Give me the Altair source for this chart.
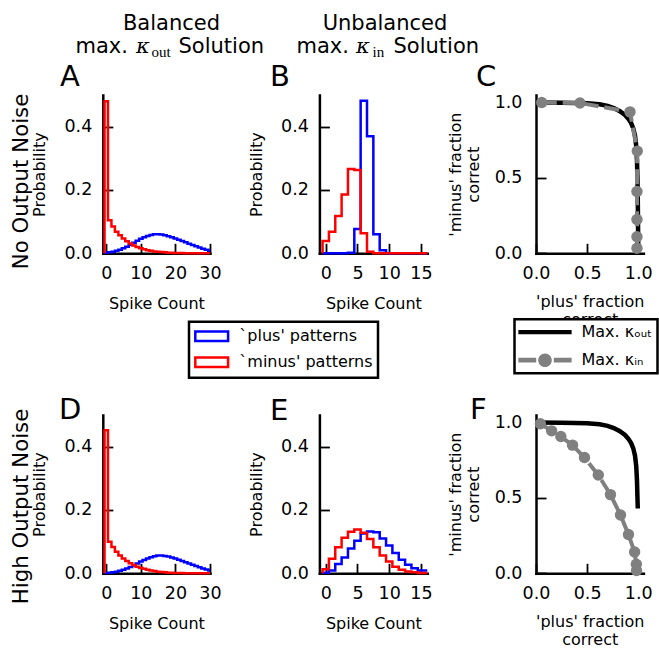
import altair as alt
import pandas as pd

W, H = 659, 648
FONT = "DejaVu Sans"

PLUS, MINUS = "`plus' patterns", "`minus' patterns"
KOUT, KIN = "Max. κₒᵤₜ", "Max. κᵢₙ"

# spike-count distributions: probability of each count 0, 1, 2, ...
plus_A = [0.002, 0.003, 0.005, 0.008, 0.011, 0.016, 0.021, 0.027, 0.033, 0.040,
          0.046, 0.051, 0.055, 0.058, 0.060, 0.060, 0.059, 0.057, 0.054, 0.051,
          0.047, 0.043, 0.039, 0.035, 0.030, 0.026, 0.022, 0.018, 0.014, 0.011, 0.008]
minus_A = [0.480, 0.104, 0.085, 0.068, 0.057, 0.047, 0.038, 0.031, 0.025, 0.020,
           0.016, 0.013, 0.010, 0.008, 0.006, 0.005, 0.004, 0.003, 0.002, 0.002,
           0.001, 0.001, 0.001, 0.0, 0.0, 0.0, 0.0, 0.0, 0.0, 0.0, 0.0]
plus_B = [0.0, 0.0, 0.0, 0.0, 0.002, 0.077, 0.482, 0.370, 0.060, 0.010,
          0.0, 0.0, 0.0, 0.0, 0.0, 0.0]
minus_B = [0.039, 0.068, 0.118, 0.186, 0.266, 0.263, 0.063, 0.005, 0.0, 0.0,
           0.0, 0.0, 0.0, 0.0, 0.0, 0.0]
plus_D = [0.001, 0.002, 0.003, 0.005, 0.008, 0.011, 0.015, 0.020, 0.025, 0.031,
          0.037, 0.042, 0.047, 0.051, 0.054, 0.056, 0.056, 0.055, 0.053, 0.050,
          0.047, 0.043, 0.039, 0.035, 0.031, 0.027, 0.023, 0.019, 0.015, 0.012, 0.009]
minus_D = [0.452, 0.100, 0.083, 0.068, 0.056, 0.047, 0.039, 0.032, 0.026, 0.021,
           0.017, 0.014, 0.011, 0.009, 0.007, 0.005, 0.004, 0.003, 0.002, 0.002,
           0.001, 0.001, 0.001, 0.0, 0.0, 0.0, 0.0, 0.0, 0.0, 0.0, 0.0]
plus_E = [0.002, 0.009, 0.029, 0.050, 0.078, 0.103, 0.126, 0.132, 0.130, 0.110,
          0.088, 0.064, 0.043, 0.027, 0.016, 0.009]
minus_E = [0.013, 0.046, 0.082, 0.112, 0.131, 0.138, 0.128, 0.108, 0.082, 0.056,
           0.037, 0.021, 0.011, 0.006, 0.003, 0.001]

# fraction-correct trade-off curves
kout_x_C = [0.0, 0.25, 0.5, 0.62, 0.7, 0.76, 0.82, 0.87, 0.9, 0.93, 0.951, 0.968,
            0.98, 0.987, 0.992, 0.996, 1.0]
kout_y_C = [1.0, 0.999, 0.995, 0.988, 0.978, 0.963, 0.942, 0.917, 0.895, 0.864,
            0.829, 0.78, 0.71, 0.62, 0.5, 0.3, 0.0]
kin_x_C = [0.056, 0.43, 0.919, 0.99, 0.987, 0.987, 0.987, 0.987]
kin_y_C = [1.0, 0.997, 0.938, 0.678, 0.41, 0.224, 0.11, 0.034]

kout_x_F = [0.0, 0.25, 0.5, 0.62, 0.7, 0.76, 0.82, 0.87, 0.9, 0.93, 0.951, 0.968,
            0.98, 0.987, 0.992, 0.995]
kout_y_F = [1.0, 0.999, 0.995, 0.988, 0.978, 0.963, 0.942, 0.917, 0.895, 0.864,
            0.829, 0.78, 0.71, 0.62, 0.5, 0.43]
kin_x_F = [0.043, 0.153, 0.243, 0.357, 0.474, 0.609, 0.728, 0.826, 0.904, 0.964,
           0.981, 0.983]
kin_y_F = [0.992, 0.945, 0.907, 0.85, 0.768, 0.652, 0.522, 0.387, 0.257, 0.141,
           0.06, 0.018]

hist_xticks = {"wide": [0, 10, 20, 30], "narrow": [0, 5, 10, 15]}
prob_ticks = [0.0, 0.2, 0.4]
frac_ticks = [0.0, 0.5, 1.0]

# panel frames on the canvas (pixels)
PANEL = {
    "A": dict(left=102.8, right=210.0, top=95.0, bottom=253.3, xdom=[-1, 30], ydom=[0, 0.5]),
    "B": dict(left=319.4, right=427.3, top=95.0, bottom=253.3, xdom=[-1, 16], ydom=[0, 0.5]),
    "C": dict(left=536.0, right=643.4, top=95.0, bottom=253.3, xdom=[0, 1.05], ydom=[0, 1.05]),
    "D": dict(left=102.8, right=210.0, top=415.0, bottom=573.3, xdom=[-1, 30], ydom=[0, 0.5]),
    "E": dict(left=319.4, right=427.3, top=415.0, bottom=573.3, xdom=[-1, 16], ydom=[0, 0.5]),
    "F": dict(left=536.0, right=643.4, top=415.0, bottom=573.3, xdom=[0, 1.05], ydom=[0, 1.05]),
}


def hist_frame(plus, minus, xmax):
    """Step outline (matplotlib histtype='step') for unit bins centred on integers."""
    rows = []
    for name, vals in ((PLUS, plus), (MINUS, minus)):
        xs = [-0.5] + [k - 0.5 for k in range(len(vals))] + [xmax]
        ys = [0.0] + list(vals) + [vals[-1]]
        for i, (x, y) in enumerate(zip(xs, ys)):
            rows.append({"count": x, "prob": y, "series": name, "idx": i})
    return pd.DataFrame(rows)


def xs(p):
    return alt.Scale(domain=p["xdom"], range=[p["left"], p["right"]], nice=False, zero=False)


def ys(p):
    return alt.Scale(domain=p["ydom"], range=[p["bottom"], p["top"]], nice=False, zero=False)


def x_axis(p, values, fmt, title, title_y=55):
    return alt.Axis(orient="bottom", offset=p["bottom"] - H, values=values, format=fmt,
                    ticks=False, tickSize=0, grid=False, domainCap="square",
                    labelPadding=11, labelFlush=False, labelOverlap=False,
                    title=title, titleX=(p["left"] + p["right"]) / 2, titleY=title_y,
                    titleAlign="center", titleBaseline="alphabetic", titleAngle=0,
                    titleLineHeight=18)


def y_axis(p, values, fmt, title, pad, title_x):
    return alt.Axis(orient="left", offset=-p["left"], values=values, format=fmt,
                    ticks=False, tickSize=0, grid=False, domainCap="square",
                    labelPadding=pad, labelFlush=False, labelOverlap=False,
                    title=title, titleX=title_x, titleY=(p["top"] + p["bottom"]) / 2,
                    titleAlign="center", titleBaseline="alphabetic", titleAngle=270,
                    titleLineHeight=18.5)


def tick_layer(df, xf, yf, p, xvals, yvals):
    """Invisible copy of a panel's data that carries its inward-pointing ticks."""
    return alt.Chart(df).mark_point(opacity=0).encode(
        x=alt.X(xf, type="quantitative", scale=xs(p),
                axis=alt.Axis(orient="top", offset=-p["bottom"], values=xvals, labels=False,
                              domain=False, ticks=True, tickSize=10, tickWidth=1.8,
                              tickColor="black", grid=False, title=None)),
        y=alt.Y(yf, type="quantitative", scale=ys(p),
                axis=alt.Axis(orient="right", offset=p["left"] - W, values=yvals, labels=False,
                              domain=False, ticks=True, tickSize=10, tickWidth=1.8,
                              tickColor="black", grid=False, title=None)),
    )


pattern_legend = alt.Legend(
    title=None, orient="none", legendX=189, legendY=321.7, direction="vertical",
    symbolType="M-2.05,-0.6H2.05V0.6H-2.05Z", symbolSize=256, symbolStrokeWidth=2.5,
    symbolFillColor="transparent", symbolOffset=8.2, labelOffset=18.1,
    labelFont=FONT, labelFontSize=16, labelColor="black", labelLimit=400,
    rowPadding=5, padding=5, strokeColor="black", fillColor="white")


def hist_panel(key, plus, minus, xticks, with_legend=False):
    p = PANEL[key]
    df = hist_frame(plus, minus, p["xdom"][1])
    line = alt.Chart(df).mark_line(interpolate="step-after", strokeWidth=2.5).encode(
        x=alt.X("count:Q", scale=xs(p), axis=x_axis(p, xticks, "d", "Spike Count")),
        y=alt.Y("prob:Q", scale=ys(p),
                axis=y_axis(p, prob_ticks, ".1f", "Probability", 11, -58.2)),
        color=alt.Color("series:N",
                        scale=alt.Scale(domain=[PLUS, MINUS], range=["#0000ff", "#ff0000"]),
                        legend=pattern_legend if with_legend else None),
        order=alt.Order("idx:Q"),
    )
    return [line, tick_layer(df, "count", "prob", p, xticks, prob_ticks)]


def curve_panel(key, kx, ky, gx, gy, xtitle):
    p = PANEL[key]
    black = pd.DataFrame({"plus_frac": kx, "minus_frac": ky})
    gray = pd.DataFrame({"plus_frac": gx, "minus_frac": gy, "idx": range(len(gx))})
    ya = y_axis(p, frac_ticks, ".1f", ["'minus' fraction", "correct"], 14, -75.8)
    xa = x_axis(p, frac_ticks, ".1f", xtitle, title_y=53)
    solid = alt.Chart(black).mark_line(color="black", strokeWidth=4.5).encode(
        x=alt.X("plus_frac:Q", scale=xs(p), axis=xa),
        y=alt.Y("minus_frac:Q", scale=ys(p), axis=ya),
        order=alt.Order("minus_frac:Q", sort="descending"),
    )
    dashed = alt.Chart(gray).mark_line(color="#808080", strokeWidth=4, strokeDash=[15, 6]).encode(
        x=alt.X("plus_frac:Q", scale=xs(p), axis=None),
        y=alt.Y("minus_frac:Q", scale=ys(p), axis=None),
        order=alt.Order("idx:Q"),
    )
    dots = alt.Chart(gray).mark_circle(color="#808080", size=130, opacity=1).encode(
        x=alt.X("plus_frac:Q", scale=xs(p), axis=None),
        y=alt.Y("minus_frac:Q", scale=ys(p), axis=None),
    )
    return [solid, dashed, dots,
            tick_layer(black, "plus_frac", "minus_frac", p, frac_ticks, frac_ticks)]


# legend for the two solutions (entries come from the explicit scale domains)
KOUT_SYMBOL = "M-3.33,-0.27H3.33V0.27H-3.33Z"
KIN_SYMBOL = ("M-3.33,-0.3H-1.1V0.3H-3.33Z "
              "M-0.85,0A0.85,0.85 0 1,0 0.85,0A0.85,0.85 0 1,0 -0.85,0Z "
              "M1.1,-0.3H3.33V0.3H1.1Z")
solution_legend = alt.Legend(
    title=None, orient="none", legendX=514.5, legendY=319.2, direction="vertical",
    symbolSize=256, symbolStrokeWidth=0, symbolOffset=17.5, labelOffset=28.5,
    labelFont=FONT, labelFontSize=16, labelColor="black", labelLimit=400,
    rowPadding=12, padding=5, strokeColor="black", fillColor="white")
legend_layer = alt.Chart(pd.DataFrame({"solution": [KOUT, KIN]})).transform_filter(
    "false").mark_point(filled=True, size=256, opacity=1).encode(
    color=alt.Color("solution:N", scale=alt.Scale(domain=[KOUT, KIN], range=["black", "#808080"]),
                    legend=solution_legend),
    shape=alt.Shape("solution:N", scale=alt.Scale(domain=[KOUT, KIN],
                                                  range=[KOUT_SYMBOL, KIN_SYMBOL]),
                    legend=solution_legend),
)


def text(t, x, y, size, font=FONT, angle=0, align="left", style="normal"):
    return alt.Chart(alt.Data(values=[{}])).mark_text(
        text=t, font=font, fontSize=size, angle=angle, align=align, baseline="alphabetic",
        fontStyle=style, color="black").encode(x=alt.value(x), y=alt.value(y))


labels = [
    # column headings
    text("Balanced", 171.5, 29.5, 21, align="center"),
    text("max.", 75.5, 53.3, 21),
    text("κ", 136, 53.3, 21, font="DejaVu Serif", style="italic"),
    text("out", 151.5, 57, 15, font="Liberation Serif"),
    text("Solution", 178.5, 53.3, 21),
    text("Unbalanced", 385, 29.5, 21, align="center"),
    text("max.", 296.5, 53.3, 21),
    text("κ", 356, 53.3, 21, font="DejaVu Serif", style="italic"),
    text("in", 372.5, 56.5, 15, font="Liberation Serif"),
    text("Solution", 393.5, 53.3, 21),
    # row headings
    text("No Output Noise", 27.5, 181.5, 21.3, angle=270, align="center"),
    text("High Output Noise", 27.5, 506.5, 21.3, angle=270, align="center"),
    # panel letters
    text("A", 60, 86, 29),
    text("B", 270, 86, 29),
    text("C", 476, 86, 29),
    text("D", 59, 419, 29),
    text("E", 270, 420, 29),
    text("F", 470, 419, 29),
]

layers = []
layers += hist_panel("A", plus_A, minus_A, hist_xticks["wide"], with_legend=True)
layers += hist_panel("B", plus_B, minus_B, hist_xticks["narrow"])
layers += curve_panel("C", kout_x_C, kout_y_C, kin_x_C, kin_y_C, ["'plus' fraction", "correct"])
layers += hist_panel("D", plus_D, minus_D, hist_xticks["wide"])
layers += hist_panel("E", plus_E, minus_E, hist_xticks["narrow"])
layers += curve_panel("F", kout_x_F, kout_y_F, kin_x_F, kin_y_F, ["'plus' fraction", "correct"])
layers.append(legend_layer)
layers += labels

chart = alt.layer(*layers).resolve_scale(
    x="independent", y="independent", color="independent", shape="independent"
).properties(
    width=W, height=H, padding=0, background="white",
    autosize=alt.AutoSizeParams(type="none"),
).configure_view(stroke=None).configure_axis(
    labelFont=FONT, labelFontSize=17.5, labelColor="black",
    titleFont=FONT, titleFontSize=16, titleFontWeight="normal", titleColor="black",
    domainColor="black", domainWidth=2.5,
).configure_legend(strokeWidth=2.5)

chart.save("out.html", embed_options={"renderer": "svg", "actions": False})
